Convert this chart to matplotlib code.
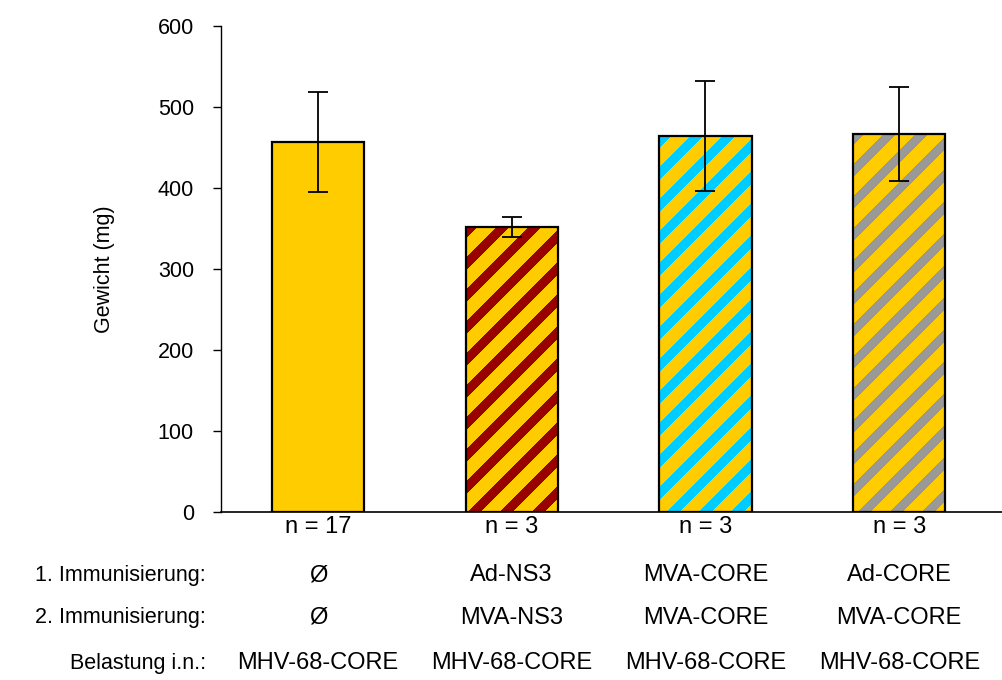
import matplotlib
matplotlib.use("Agg")
import matplotlib.pyplot as plt
from matplotlib.patches import Polygon
from matplotlib.transforms import IdentityTransform, blended_transform_factory
import numpy as np

plt.rcParams["font.family"] = ["Liberation Sans", "DejaVu Sans"]

# Spleen weight per group (mean and standard deviation)
weights = [457, 352, 464, 467]
errors = [62, 12, 68, 58]
n_labels = ["n = 17", "n = 3", "n = 3", "n = 3"]
immunisation_1 = ["Ø", "Ad-NS3", "MVA-CORE", "Ad-CORE"]
immunisation_2 = ["Ø", "MVA-NS3", "MVA-CORE", "MVA-CORE"]
challenge = ["MHV-68-CORE", "MHV-68-CORE", "MHV-68-CORE", "MHV-68-CORE"]
row_labels = ["1. Immunisierung:", "2. Immunisierung:", "Belastung i.n.:"]
yticks = [0, 100, 200, 300, 400, 500, 600]

base_color = "#FFCC00"
stripe_colors = [None, "#990000", "#00CCFF", "#999999"]

W, H, DPI = 1002, 680, 100
fig = plt.figure(figsize=(W / DPI, H / DPI), dpi=DPI)
ax = fig.add_axes([221 / W, (H - 512) / H, (W - 221) / W, (512 - 26) / H])

x = np.arange(len(weights))
ax.set_xlim(-0.5, 3.53)
ax.set_ylim(0, 600)

bar_w = 0.475
bars = ax.bar(x, weights, width=bar_w, color=base_color, edgecolor="none", zorder=2)

# Diagonal stripes drawn in pixel space and clipped to each bar
period, band = 32.0, 10.5
for bar, col in zip(bars, stripe_colors):
    if col is None:
        continue
    (x0, y0), (x1, y1) = ax.transData.transform(
        [(bar.get_x(), bar.get_y()), (bar.get_x() + bar.get_width(), bar.get_y() + bar.get_height())])
    c = x0 - y1 - period
    while c < x1 - y0 + period:
        poly = Polygon([(c + y0, y0), (c + y1, y1), (c + band + y1, y1), (c + band + y0, y0)],
                       closed=True, facecolor=col, edgecolor="none",
                       transform=IdentityTransform(), antialiased=False, zorder=2.5)
        ax.add_patch(poly)
        poly.set_clip_path(bar)
        c += period

ax.bar(x, weights, width=bar_w, color="none", edgecolor="black", linewidth=1.6, zorder=3)
ax.errorbar(x, weights, yerr=errors, fmt="none", ecolor="black", elinewidth=1.3,
            capsize=7.5, capthick=1.3, zorder=4)

for s in ["top", "right"]:
    ax.spines[s].set_visible(False)
ax.spines["left"].set_linewidth(1.0)
ax.spines["bottom"].set_linewidth(1.2)

ax.set_yticks(yticks)
ax.tick_params(axis="y", direction="out", length=6, width=1.0, labelsize=15.5, pad=13.5)
ax.set_xticks(x)
ax.set_xticklabels(n_labels)
ax.tick_params(axis="x", length=0, labelsize=17, pad=3)
ax.set_ylabel("Gewicht (mg)", fontsize=15.5)
ax.yaxis.set_label_coords((115 - 221) / (W - 221), 0.5)

# Group description rows beneath the axis
tr = blended_transform_factory(ax.transData, fig.transFigure)
row_y = [575, 618, 663]
for ry, label, values in zip(row_y, row_labels, [immunisation_1, immunisation_2, challenge]):
    fig.text(206 / W, 1 - ry / H, label, ha="right", va="center", fontsize=15.5)
    for xi, v in zip(x, values):
        ax.text(xi, 1 - ry / H, v, transform=tr, ha="center", va="center",
                fontsize=17, clip_on=False)

fig.savefig("out.png", dpi=DPI)
